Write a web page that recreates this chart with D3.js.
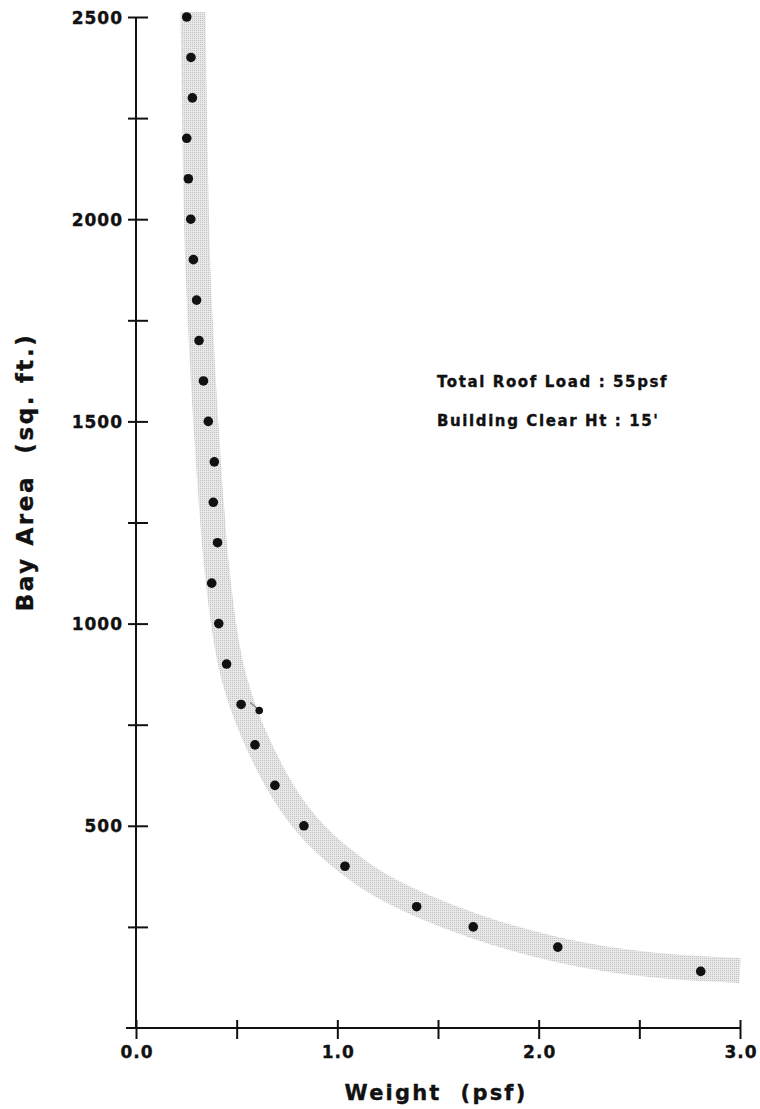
<!DOCTYPE html>
<html><head><meta charset="utf-8">
<script src="https://cdn.jsdelivr.net/npm/d3@7"></script>
<style>
html,body{margin:0;padding:0;background:#fff;}
svg{display:block;}
text{font-family:"DejaVu Sans",sans-serif;font-weight:bold;fill:#111;stroke:#111;stroke-width:0.35px;}
</style></head><body>
<svg id="chart" width="760" height="1109"></svg>
<script>
// ---- data ----
const xTickValues = [0, 0.5, 1, 1.5, 2, 2.5, 3];
const xTickLabels = ["0.0", "", "1.0", "", "2.0", "", "3.0"];
const yTickValues = [250, 500, 750, 1000, 1250, 1500, 1750, 2000, 2250, 2500];
const yTickLabels = ["", "500", "", "1000", "", "1500", "", "2000", "", "2500"];

const pointArea   = [2500, 2400, 2300, 2200, 2100, 2000, 1900, 1800, 1700, 1600, 1500, 1400, 1300, 1200, 1100, 1000, 900, 800, 700, 600, 500, 400, 300, 250, 200, 140];
const pointWeight = [0.252, 0.273, 0.280, 0.252, 0.260, 0.272, 0.285, 0.301, 0.313, 0.335, 0.359, 0.389, 0.384, 0.405, 0.376, 0.411, 0.450, 0.522, 0.591, 0.690, 0.834, 1.038, 1.394, 1.675, 2.095, 2.805];

const strayWeight = [0.612];
const strayArea   = [785];

const bandWeight = [0.283, 0.298, 0.313, 0.333, 0.365, 0.387, 0.407, 0.437, 0.482, 0.571, 0.690, 0.839, 1.063, 1.212, 1.396, 1.674, 2.095, 2.538, 3.0];
const bandArea   = [2512, 2000, 1800, 1602, 1355, 1204, 1108, 984, 861, 737, 613, 498, 401, 351, 306, 250, 189, 153, 142];

const noteLines = ["Total Roof Load : 55psf", "Building Clear Ht : 15'"];
const xTitle = "Weight  (psf)";
const yTitle = "Bay Area  (sq. ft.)";

// ---- chart ----
const svg = d3.select("#chart");
const x = d3.scaleLinear().domain([0, 3]).range([136, 740]);
const y = d3.scaleLinear().domain([0, 2500]).range([1028, 17]);

const defs = svg.append("defs");
const pat = defs.append("pattern").attr("id", "stip")
  .attr("patternUnits", "userSpaceOnUse").attr("width", 2).attr("height", 2);
pat.append("rect").attr("width", 2).attr("height", 2).attr("fill", "#e8e8e8");
pat.append("rect").attr("width", 1).attr("height", 1).attr("fill", "#c2c2c2");

// band
const bandData = bandWeight.map((w, i) => [w, bandArea[i]]);
svg.append("path")
  .datum(bandData)
  .attr("d", d3.line().x(d => x(d[0])).y(d => y(d[1])).curve(d3.curveBasis))
  .attr("fill", "none")
  .attr("stroke", "url(#stip)")
  .attr("stroke-width", 25)
  .attr("stroke-linecap", "butt");

// axes lines
svg.append("line").attr("x1", x(0) - 10).attr("x2", x(3)).attr("y1", y(0)).attr("y2", y(0))
  .attr("stroke", "#111").attr("stroke-width", 2);
svg.append("line").attr("x1", x(0)).attr("x2", x(0)).attr("y1", y(2500)).attr("y2", y(0) + 1)
  .attr("stroke", "#111").attr("stroke-width", 2);

// x axis
const gx = svg.append("g").attr("transform", `translate(0,${y(0)})`)
  .call(d3.axisBottom(x).tickValues(xTickValues).tickFormat((d, i) => xTickLabels[i]).tickSizeOuter(0));
gx.select(".domain").remove();
gx.selectAll(".tick line").attr("y1", -8).attr("y2", 11).attr("stroke", "#111").attr("stroke-width", 2);
gx.selectAll(".tick text").attr("y", 30).attr("dy", 0).attr("dx", 0.5)
  .style("font-size", "17px").style("letter-spacing", "1px");

// y axis
const gy = svg.append("g").attr("transform", `translate(${x(0)},0)`)
  .call(d3.axisLeft(y).tickValues(yTickValues).tickFormat((d, i) => yTickLabels[i]).tickSizeOuter(0));
gy.select(".domain").remove();
gy.selectAll(".tick line").attr("x1", -8).attr("x2", 12).attr("stroke", "#111").attr("stroke-width", 2);
gy.selectAll(".tick text").attr("x", -13).attr("dy", "0.36em")
  .style("font-size", "17px").style("letter-spacing", "1px");

// points
svg.append("g").selectAll("circle")
  .data(pointWeight.map((w, i) => [w, pointArea[i]]))
  .join("circle")
  .attr("cx", d => x(d[0])).attr("cy", d => y(d[1])).attr("r", 4.8).attr("fill", "#111");

// stray mark
const stray = strayWeight.map((w, i) => [w, strayArea[i]]);
svg.append("g").selectAll("line").data(stray).join("line")
  .attr("x1", d => x(d[0]) - 9).attr("y1", d => y(d[1]) - 8)
  .attr("x2", d => x(d[0]) - 2).attr("y2", d => y(d[1]) - 2)
  .attr("stroke", "#777").attr("stroke-width", 1.2);
svg.append("g").selectAll("circle").data(stray).join("circle")
  .attr("cx", d => x(d[0])).attr("cy", d => y(d[1])).attr("r", 3.8).attr("fill", "#111");

// annotation
svg.append("g").selectAll("text").data(noteLines).join("text")
  .attr("x", 437).attr("y", (d, i) => 387 + i * 38.5)
  .style("font-size", "15px").style("letter-spacing", "1.6px")
  .style("white-space", "pre")
  .text(d => d);

// titles
svg.append("text")
  .attr("x", 436).attr("y", 1100).attr("text-anchor", "middle")
  .style("font-size", "21px").style("letter-spacing", "2.2px").style("white-space", "pre")
  .text(xTitle);

svg.append("text")
  .attr("transform", "translate(33,472) rotate(-90)")
  .attr("text-anchor", "middle")
  .style("font-size", "23px").style("letter-spacing", "2.6px").style("white-space", "pre")
  .text(yTitle);
</script>
</body></html>
